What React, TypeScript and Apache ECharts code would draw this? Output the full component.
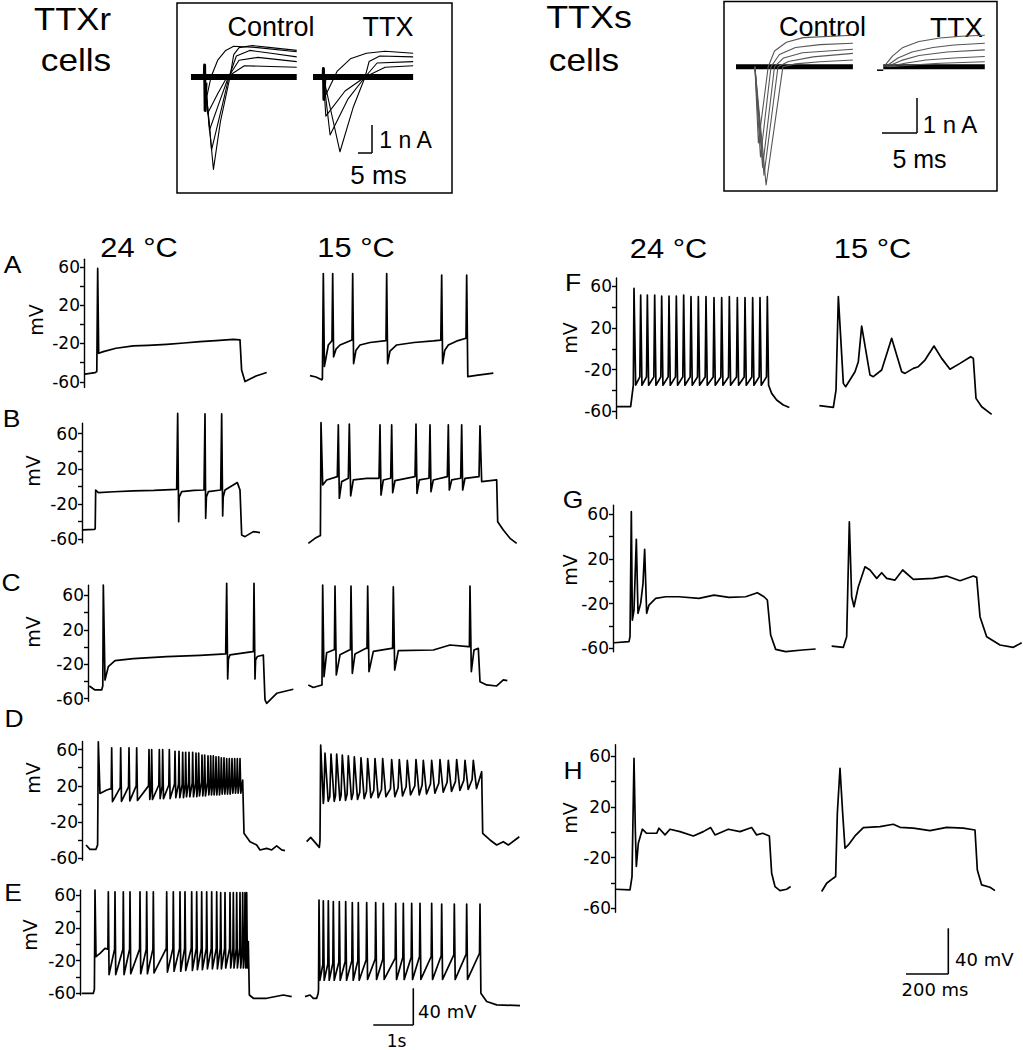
import React, { useEffect, useRef } from "react";
import * as echarts from "echarts";

type Pt = [number, number];
type Spk = [number, number, number, number]; // time, pre-spike level, peak, after-spike trough

// ---------------- axis ticks / labels ----------------
const tickValues = [-60, -40, -20, 0, 20, 40, 60];
const labelValues = [-60, -20, 20, 60];
const tempLabels = ["24 °C", "15 °C"];

// ---------------- Panel A (time s, mV) ----------------
const A24: Pt[] = [[0.02,-52],[0.28,-50.4],[0.32,-49.4],[0.342,58.4],[0.367,-30.3],[0.483,-28.5],[0.8,-25],[1.233,-22.6],[1.6,-22],[2.067,-20.9],[2.5,-19.5],[2.9,-18.1],[3.3,-17],[3.733,-15.7],[3.9,-16.3],[3.94,-47.7],[4.025,-59.8],[4.3,-54],[4.567,-50.4]];
const A15: Pt[] = [[0,-53.6],[0.15,-55],[0.29,-58],[0.31,-57],[0.333,53],[0.36,-44],[0.4,-35],[0.458,-21.6],[0.55,-17],[0.567,53],[0.59,-34],[0.65,-26],[0.75,-21.6],[1.05,-16.3],[1.067,53],[1.09,-41],[1.15,-27],[1.25,-21.6],[1.5,-19],[1.9,-17],[1.917,53],[1.94,-41],[2.0,-28],[2.167,-21.6],[2.6,-19],[3.083,-17.4],[3.27,-16.5],[3.292,51.5],[3.315,-41],[3.37,-27],[3.458,-21.6],[3.7,-17],[3.9,-14.6],[3.917,51.5],[3.945,-54.6],[4.2,-53],[4.583,-51]];

// ---------------- Panel B ----------------
const B24: Pt[] = [[0.017,-49.4],[0.308,-48.7],[0.33,-48],[0.342,-4],[0.408,-7],[0.8,-6],[1.283,-5.1],[1.8,-4.5],[2.367,-3.2],[2.38,-3],[2.392,83],[2.417,-40],[2.43,-12],[2.492,-5.9],[2.8,-4.5],[3.05,-4],[3.062,-4],[3.075,82.4],[3.092,-36.2],[3.11,-12],[3.158,-5.9],[3.467,-4],[3.48,-4],[3.492,82.4],[3.517,-33.5],[3.53,-12],[3.575,-4],[3.883,4.4],[3.95,-4],[3.992,-55.1],[4.075,-57],[4.283,-51.3],[4.45,-52.5]];
const B15: Pt[] = [[0.008,-64.6],[0.175,-58.9],[0.283,-56.3],[0.31,-56],[0.325,72.5],[0.367,1.7],[0.467,7.4],[0.733,11.2],[0.758,69.9],[0.783,-13.4],[0.842,5.5],[1.008,9.3],[1.033,71],[1.067,-10.8],[1.133,7.4],[1.467,9.3],[1.775,9.3],[1.8,69.9],[1.825,-9.7],[1.883,7.4],[2.067,9.3],[2.092,69.9],[2.117,-7],[2.175,6.6],[2.675,11.2],[2.7,71],[2.725,-7.8],[2.783,7.4],[3.025,9.3],[3.05,69.9],[3.075,-5.9],[3.133,7.4],[3.483,11.2],[3.508,69.9],[3.533,-4],[3.592,7.4],[3.817,9.3],[3.842,69.9],[3.867,-4],[3.925,9.3],[4.275,11.2],[4.3,68.8],[4.342,5.5],[4.717,7.4],[4.742,-40],[4.883,-49.4],[5.05,-58.9],[5.217,-64.6]];

// ---------------- Panel C ----------------
const C24: Pt[] = [[0.033,-45.2],[0.175,-49.8],[0.342,-49.8],[0.37,-45],[0.383,72.1],[0.425,-38.2],[0.508,-22.7],[0.675,-15.8],[1.133,-13.5],[1.967,-11.1],[2.8,-9.6],[3.442,-8],[3.455,-8],[3.467,74],[3.492,-37],[3.51,-14],[3.55,-9],[4.117,-5.3],[4.135,-5.3],[4.15,74],[4.175,-37],[4.19,-15],[4.233,-11],[4.383,-9.2],[4.425,-61.4],[4.467,-65.3],[4.717,-53.7],[5.133,-49]];
const C15: Pt[] = [[0.008,-44],[0.133,-46.9],[0.258,-45.2],[0.35,-44],[0.367,72],[0.4,-34.3],[0.467,-6.5],[0.633,-3.4],[0.66,-3],[0.675,70.9],[0.708,-32.4],[0.8,-9],[1.033,-3.4],[1.06,-3],[1.075,70.9],[1.108,-30.5],[1.175,-8],[1.45,-1.5],[1.475,-1.5],[1.492,70.9],[1.525,-28.5],[1.633,-5],[2.092,-1.5],[2.115,-1.5],[2.133,70.1],[2.167,-26.6],[2.258,-4.2],[3.133,-3.4],[3.55,2.4],[4.008,0.5],[4.035,0.5],[4.05,70.9],[4.083,-28.5],[4.15,-3.4],[4.258,-1.5],[4.3,-40.2],[4.467,-44],[4.717,-45.2],[4.883,-38.2],[4.983,-39]];

// ---------------- Panel D ----------------
const D24_head: Pt[] = [[0.1,-45.1],[0.2,-49.9],[0.35,-49.9],[0.39,-45],[0.408,68.6],[0.45,11.7],[0.617,15.4]];
const D24_spikes: Spk[] = [[0.742,17,62,2.6],[0.967,18,62,3],[1.175,19,62,3.5],[1.367,20,62,4],[1.675,20,60,5],[1.742,19,60,5],[1.933,21,60,6],[2.017,20,60,6],[2.183,21,60,6],[2.325,22,58,7],[2.425,22,58,7],[2.517,22,57,7],[2.592,22,57,8],[2.675,23,57,8],[2.767,23,57,8],[2.85,23,56,8],[2.917,23,56,9],[3.0,24,54,9],[3.067,24,54,9],[3.15,24,53,10],[3.217,24,53,10],[3.283,24,53,10],[3.35,25,52,10],[3.417,25,52,10],[3.483,25,51,11],[3.55,25,51,11],[3.617,25,50,11],[3.683,26,50,11],[3.75,26,50,12],[3.817,26,50,12],[3.883,26,50,12],[3.95,26,50,12]];
const D24_tail: Pt[] = [[4.017,26.4],[4.05,-32.3],[4.2,-41.5],[4.367,-45.1],[4.45,-50.6],[4.617,-48.8],[4.742,-50.6],[4.867,-46.2],[4.992,-50.6],[5.075,-51.4]];
const D15_head: Pt[] = [[0.017,-41.5],[0.117,-36.7],[0.333,-47.7],[0.35,-40],[0.367,65],[0.433,0.7]];
const D15_spikes: Spk[] = [[0.475,6,56,3],[0.625,8,55,3],[0.767,9,55,4],[0.908,10,54,4],[1.058,11,53,5],[1.208,12,52,5],[1.375,13,51,6],[1.542,14,50,7],[1.725,15,50,7],[1.917,16,50,8],[2.142,17,49,8],[2.333,18,49,9],[2.533,19,48,10],[2.75,20,49,10],[2.933,21,48,11],[3.142,22,48,12],[3.35,23,49,13],[3.558,24,48,14],[3.767,25,49,15],[3.975,26,48,16],[4.183,27,48,17]];
const D15_tail: Pt[] = [[4.392,35.6],[4.417,-32.3],[4.6,-39.6],[4.767,-45.1],[4.933,-41.5],[5.058,-45.1],[5.225,-39.6],[5.333,-36]];

// ---------------- Panel E ----------------
const E24_head: Pt[] = [[0.042,-60],[0.333,-60],[0.36,-55],[0.375,66.2],[0.4,-15.2],[0.5,-11.1],[0.625,-5]];
const E24_spikes: Spk[] = [[0.708,-6,64,-37],[0.875,-6,64,-37],[1.083,-6,64,-37],[1.25,-6,64,-36],[1.5,-6,64,-36],[1.667,-6,64,-36],[1.833,-6,64,-35],[2.167,-5,64,-34],[2.333,-5,64,-33],[2.5,-5,64,-33],[2.625,-5,64,-32],[2.792,-5,64,-32],[2.917,-5,64,-31],[3.042,-5,64,-31],[3.167,-5,64,-30],[3.292,-5,64,-30],[3.417,-5,64,-30],[3.517,-5,63,-30],[3.625,-5,63,-29],[3.75,-5,63,-29],[3.833,-5,63,-29],[3.917,-5,63,-29],[4.0,-5,63,-29],[4.067,-5,63,-29],[4.125,-5,63,-29],[4.167,-5,63,-29]];
const E24_tail: Pt[] = [[4.208,3.2],[4.233,-62],[4.333,-66],[4.667,-66],[5.083,-62],[5.292,-64]];
const E15_head: Pt[] = [[0,-64],[0.125,-62],[0.208,-66],[0.292,-66],[0.33,-60]];
const E15_spikes: Spk[] = [[0.35,-55,54,-44],[0.458,-25,53,-44],[0.583,-24,53,-44],[0.708,-23,52,-44],[0.858,-22,52,-44],[1.017,-21,52,-44],[1.183,-20,51,-44],[1.333,-20,51,-44],[1.542,-19,51,-43],[1.767,-18,51,-43],[1.958,-18,50,-43],[2.267,-17,50,-43],[2.458,-16,50,-43],[2.667,-16,50,-43],[2.875,-15,50,-43],[3.167,-15,50,-43],[3.417,-14,49,-43],[3.733,-13,49,-43],[4.042,-12,49,-43],[4.375,-11,49,-60]];
const E15_tail: Pt[] = [[4.542,-70],[4.792,-74],[5.375,-75]];

// ---------------- Panel F (time ms, mV) ----------------
const F24_head: Pt[] = [[0,-55.6],[69.8,-55.6],[82.5,-34.8],[85.7,58],[93.7,-34.8]];
const F24_spikes: Spk[] = [[117.5,-27,51.6,-35],[149.3,-27,51.6,-35],[184.2,-27,51.6,-35],[217.5,-27,50.6,-35],[252.4,-27,50.6,-35],[287.3,-27,50.6,-35],[322.2,-27,51.6,-35],[357.1,-27,50,-35],[392.1,-27,50,-35],[428.6,-27,50,-35],[466.7,-27,49,-35],[503.2,-27,49,-35],[539.7,-27,50,-35],[577.8,-27,49,-35],[614.3,-27,49,-35],[650.8,-27,49,-35],[685.7,-27,49,-35],[720.6,-27,50,-35]];
const F24_tail: Pt[] = [[741.3,-42.8],[765,-49.2],[796.8,-54],[825.4,-56.4]];
const F15: Pt[] = [[1.6,-54.6],[68.3,-56.2],[81,-39.6],[92.1,50],[115.9,-33.2],[127,-36.4],[171.4,-22],[187.3,-12.4],[203.2,21.8],[242.9,-25.2],[258.7,-26.8],[298.4,-20.4],[346,10],[393.7,-22],[409.5,-23.6],[449.2,-18.8],[473,-17.2],[504.8,-10.8],[547.6,2.6],[584.1,-9.2],[623.8,-19.6],[671.4,-14],[722.2,-7.6],[734.9,-9.2],[747.6,-47.6],[774.6,-55.6],[822.2,-63]];

// ---------------- Panel G ----------------
const G24: Pt[] = [[4.8,-55],[76.2,-54],[81,-49.6],[87.3,62.1],[92.1,-34.7],[100,-25.8],[111.1,37.4],[119,-28.7],[131.8,-19.8],[142.9,-1.9],[150.8,28.4],[160.3,-28.7],[171.4,-21.3],[203.2,-15.3],[250.8,-13.9],[314.3,-13.9],[409.5,-15.3],[481,-12.4],[552.4,-14.4],[631.8,-13.9],[687.3,-10.3],[719,-13.9],[735,-16.8],[750.8,-48.1],[774.6,-60.9],[822.2,-63],[901.6,-61.5],[965,-60.6]];
const G15: Pt[] = [[3.2,-58],[58.7,-59.1],[74.6,-49.6],[87.3,53.1],[98.4,-13.9],[109.5,-22.8],[130.2,-4.9],[161.9,12.9],[185.7,10],[217.5,2.5],[241.3,7.6],[265.1,2.5],[304.8,1],[341.3,10],[392.1,1.6],[487.3,2.5],[550.8,4.6],[614.3,0.4],[677.8,4.6],[693.7,3.4],[709.5,-31.7],[741.3,-49.6],[804.8,-57],[868.3,-59.1],[908,-55]];

// ---------------- Panel H ----------------
const H24: Pt[] = [[0,-44.9],[71.4,-45.4],[81,-34.9],[90.5,58.3],[96.8,1.8],[101.6,-27],[111.1,-8.7],[130.2,2.4],[150.8,-0.8],[198.4,-0.8],[209.5,3.2],[238.1,-2.1],[261.9,2.4],[309.5,0.5],[373,-2.9],[420.6,0.5],[455.6,3.7],[476.2,-2.1],[539.7,2.4],[595.2,0.5],[650.8,3.7],[674.6,-2.1],[703.2,-0.8],[735,-2.9],[746,-32.3],[761.9,-42.8],[785.7,-46],[817.5,-44.9],[836.5,-42.8]];
const H15: Pt[] = [[3.2,-46.7],[27,-40.2],[58.7,-36.2],[69.8,-34.9],[77.8,15],[90.5,50.4],[103.2,15],[114.3,-12.6],[130.2,-10],[161.9,-2.9],[201.6,3.7],[281,4.5],[344.4,6.3],[376.2,3.9],[439.7,3.2],[519,1.3],[598.4,3.9],[677.8,3.2],[733.3,1.8],[744.4,-29.7],[765.1,-41.5],[804.8,-43.3],[828.6,-46]];

// ---------------- Insets (time ms, current nA) ----------------
const TTXr_ctl_base: Pt[] = [[0,0],[39.6,0]];
const TTXr_ctl_cap: Pt[] = [[5.0,0],[5.1,0.43],[5.3,-1.2],[5.6,-0.2]];
const TTXr_ctl: Pt[][] = [
  [[5.2,0],[8.4,-3.3],[11,-1.6],[14.6,0],[16,0.8],[18,1.05],[23,1.12],[30,1.05],[39.6,0.95]],
  [[5.2,0],[7.7,-2.6],[12,-0.9],[14.2,0],[17,0.75],[22,0.95],[30,0.85],[39.6,0.72]],
  [[5.2,0],[6.9,-1.9],[11,-0.8],[14,0],[18,0.6],[25,0.7],[39.6,0.55]],
  [[5.2,0],[6.2,-1.3],[10,-0.6],[13.5,0],[20,0.4],[39.6,0.35]],
  [[5.2,0],[5.7,-0.8],[7.5,0],[10,0.6],[13,0.95],[16,1.1],[25,1.05],[39.6,0.9]],
];
const TTXr_ttx_base: Pt[] = [[0,0],[37.5,0]];
const TTXr_ttx_cap: Pt[] = [[3.8,0],[3.9,0.3],[4.1,-0.8],[4.4,-0.1]];
const TTXr_ttx: Pt[][] = [
  [[3.9,0],[10.1,-2.67],[15,-1.1],[19.5,0],[21,0.55],[25,0.75],[37.5,0.72]],
  [[3.9,0],[6.4,-2.07],[13,-0.8],[19.5,0],[24,0.5],[37.5,0.55]],
  [[3.9,0],[4.8,-1.4],[12,-0.5],[19.5,0],[27,0.35],[37.5,0.4]],
  [[3.9,0],[4.5,-0.7],[9,0.2],[14,0.65],[20,0.85],[27,0.92],[37.5,0.85]],
];
const TTXs_ctl_base: Pt[] = [[0,0],[16.7,0]];
const TTXs_ctl: Pt[][] = [
  [[2.7,0],[3.2,-2.18],[4.6,0],[5.5,0.45],[7.2,0.7],[9.6,0.83],[16.7,0.9]],
  [[2.7,0],[3.5,-2.58],[5.0,0],[6.2,0.35],[8.5,0.55],[12,0.63],[16.7,0.67]],
  [[2.7,0],[3.8,-2.87],[5.5,0],[6.8,0.25],[9.5,0.4],[16.7,0.5]],
  [[2.7,0],[4.0,-3.1],[6.0,0],[7.5,0.15],[11,0.28],[16.7,0.38]],
  [[2.7,0],[4.3,-3.38],[6.7,0],[8.5,0.08],[12,0.14],[16.7,0.19]],
];
const TTXs_ttx_base: Pt[] = [[0.9,0],[15.4,0]];
const TTXs_ttx_lead: Pt[] = [[0,-0.1],[0.9,-0.1]];
const TTXs_ttx: Pt[][] = [
  [[1.0,0],[2.2,0.3],[3.7,0.55],[6,0.72],[9,0.82],[12,0.87],[15.4,0.9]],
  [[1.2,0],[3,0.25],[5,0.42],[8,0.55],[11,0.62],[15.4,0.67]],
  [[1.4,0],[3.5,0.18],[6,0.32],[10,0.42],[15.4,0.48]],
  [[1.6,0],[4,0.1],[7,0.19],[11,0.25],[15.4,0.29]],
  [[1.8,0],[5,0.05],[9,0.1],[15.4,0.14]],
];

function train(head: Pt[], spikes: Spk[], tail: Pt[], rise: number, fall: number): Pt[] {
  const out: Pt[] = head.slice();
  for (const [t, pre, pk, tr] of spikes) {
    out.push([t - rise, pre], [t, pk], [t + fall, tr]);
  }
  return out.concat(tail);
}

interface GridDef { left: number; top: number; width: number; height: number; xMax: number; yMin: number; yMax: number; axis: boolean; }

const FONT_AX = '"DejaVu Sans", sans-serif';
const FONT_TXT = '"Liberation Sans", Arial, sans-serif';

export default function App() {
  const ref = useRef<HTMLDivElement>(null);
  useEffect(() => {
    if (!ref.current) return;
    const chart = echarts.init(ref.current, undefined, { renderer: "svg" });

    const grids: GridDef[] = [];
    const series: any[] = [];
    const addGrid = (g: GridDef) => { grids.push(g); return grids.length - 1; };
    const addLine = (gi: number, data: Pt[], color = "#000", width = 1.7) => {
      series.push({
        type: "line", xAxisIndex: gi, yAxisIndex: gi, data, symbol: "none", showSymbol: false,
        clip: false, silent: true, animation: false,
        lineStyle: { color, width, join: "round" },
      });
    };

    const panels: { d24: Pt[]; d15: Pt[]; top: number; height: number; yMin: number; yMax: number; l24: number; x24: number; l15: number; x15: number; pxu: number }[] = [
      { d24: A24, d15: A15, top: 259.2, height: 128.3, yMin: -66, yMax: 68, l24: 84, x24: 4.6, l15: 310, x15: 4.6, pxu: 40 },
      { d24: B24, d15: B15, top: 423.1, height: 119.7, yMin: -64, yMax: 72, l24: 82, x24: 4.5, l15: 308, x15: 5.25, pxu: 40 },
      { d24: C24, d15: C15, top: 585.1, height: 116.2, yMin: -63, yMax: 72, l24: 88, x24: 5.2, l15: 308, x15: 5.0, pxu: 40 },
      { d24: train(D24_head, D24_spikes, D24_tail, 0.012, 0.02), d15: train(D15_head, D15_spikes, D15_tail, 0.03, 0.08), top: 741.4, height: 118.9, yMin: -62, yMax: 69, l24: 82, x24: 5.1, l15: 306, x15: 5.35, pxu: 40 },
      { d24: train(E24_head, E24_spikes, E24_tail, 0.01, 0.018), d15: train(E15_head, E15_spikes, E15_tail, 0.012, 0.022), top: 890.2, height: 104.8, yMin: -62, yMax: 66, l24: 80, x24: 5.3, l15: 305, x15: 5.4, pxu: 40 },
      { d24: train(F24_head, F24_spikes, F24_tail, 4, 6), d15: F15, top: 277.9, height: 140.7, yMin: -67, yMax: 68, l24: 616, x24: 830, l15: 819, x15: 830, pxu: 0.21 },
      { d24: G24, d15: G15, top: 505.1, height: 146.6, yMin: -63, yMax: 68, l24: 613, x24: 970, l15: 831, x15: 910, pxu: 0.21 },
      { d24: H24, d15: H15, top: 744.7, height: 167.5, yMin: -63, yMax: 69, l24: 615, x24: 840, l15: 821, x15: 830, pxu: 0.21 },
    ];
    for (const p of panels) {
      const g1 = addGrid({ left: p.l24, top: p.top, width: p.x24 * p.pxu, height: p.height, xMax: p.x24, yMin: p.yMin, yMax: p.yMax, axis: true });
      addLine(g1, p.d24);
      const g2 = addGrid({ left: p.l15, top: p.top, width: p.x15 * p.pxu, height: p.height, xMax: p.x15, yMin: p.yMin, yMax: p.yMax, axis: false });
      addLine(g2, p.d15);
    }

    // Insets
    const i1 = addGrid({ left: 191, top: 35, width: 40 * 2.67, height: 142.8, xMax: 40, yMin: -3.6, yMax: 1.5, axis: false });
    addLine(i1, TTXr_ctl_base, "#000", 6);
    addLine(i1, TTXr_ctl_cap, "#000", 3);
    TTXr_ctl.forEach((d) => addLine(i1, d, "#000", 1.1));
    const i2 = addGrid({ left: 313, top: 35, width: 37.5 * 2.67, height: 142.8, xMax: 37.5, yMin: -3.6, yMax: 1.5, axis: false });
    addLine(i2, TTXr_ttx_base, "#000", 6);
    addLine(i2, TTXr_ttx_cap, "#000", 3);
    TTXr_ttx.forEach((d) => addLine(i2, d, "#000", 1.1));
    const i3 = addGrid({ left: 736, top: 17.7, width: 16.7 * 7, height: 175, xMax: 16.7, yMin: -3.6, yMax: 1.4, axis: false });
    addLine(i3, TTXs_ctl_base, "#000", 5);
    TTXs_ctl.forEach((d) => addLine(i3, d, "#555", 1.1));
    const i4 = addGrid({ left: 877, top: 17.7, width: 15.4 * 7, height: 175, xMax: 15.4, yMin: -3.6, yMax: 1.4, axis: false });
    addLine(i4, TTXs_ttx_lead, "#000", 1.5);
    addLine(i4, TTXs_ttx_base, "#000", 5);
    TTXs_ttx.forEach((d) => addLine(i4, d, "#555", 1.1));

    const axisColor = "#000";
    const option: any = {
      animation: false,
      backgroundColor: "#fff",
      grid: grids.map((g) => ({ left: g.left, top: g.top, width: g.width, height: g.height, containLabel: false, outerBoundsMode: "none" })),
      xAxis: grids.map((g, i) => ({ type: "value", gridIndex: i, min: 0, max: g.xMax, show: false })),
      yAxis: grids.map((g, i) => ({
        type: "value", gridIndex: i, min: g.yMin, max: g.yMax, show: g.axis,
        axisLine: { show: true, lineStyle: { color: axisColor, width: 1.4 } },
        axisTick: { show: true, length: 4, customValues: tickValues, lineStyle: { color: axisColor, width: 1.4 } },
        axisLabel: { show: true, customValues: labelValues, color: "#000", fontSize: 17, fontFamily: FONT_AX, margin: 4 },
        splitLine: { show: false },
      })),
      series,
      graphic: { elements: [] as any[] },
    };

    const els: any[] = option.graphic.elements;
    const txt = (text: string, x: number, y: number, size: number, opts: any = {}) => {
      els.push({
        type: "text", x, y, rotation: opts.rotation || 0, scaleX: opts.scaleX || 1, silent: true,
        style: {
          text, fill: "#000", font: `${size}px ${opts.font || FONT_TXT}`,
          align: opts.align || "center", textAlign: opts.align || "center",
          verticalAlign: "middle", textVerticalAlign: "middle",
        },
      });
    };
    const seg = (x1: number, y1: number, x2: number, y2: number, w = 1.6) => {
      els.push({ type: "line", silent: true, shape: { x1, y1, x2, y2 }, style: { stroke: "#000", lineWidth: w } });
    };

    // Titles
    txt("TTXr", 72.5, 18.5, 32, { scaleX: 1.08 });
    txt("cells", 76, 60, 32, { scaleX: 1.1 });
    txt("TTXs", 589, 17, 32, { scaleX: 1.12 });
    txt("cells", 584, 60, 32, { scaleX: 1.1 });

    // Inset boxes
    els.push({ type: "rect", silent: true, shape: { x: 177, y: 3, width: 275, height: 190 }, style: { fill: "none", stroke: "#000", lineWidth: 1.5 } });
    els.push({ type: "rect", silent: true, shape: { x: 724, y: 1.5, width: 273, height: 189.5 }, style: { fill: "none", stroke: "#000", lineWidth: 1.5 } });
    txt("Control", 271, 27, 27);
    txt("TTX", 388, 27, 27);
    txt("1 n A", 405.5, 140, 23);
    txt("5 ms", 378.5, 175, 26);
    seg(372, 125, 372, 153, 1.5); seg(358, 153, 372, 153, 1.5);
    txt("Control", 822.5, 27, 27);
    txt("TTX", 956.5, 27, 28);
    txt("1 n A", 950, 124, 24);
    txt("5 ms", 919.5, 159, 25);
    seg(917, 98, 917, 133, 1.5); seg(882, 133, 917, 133, 1.5);

    // Temperature headers
    txt(tempLabels[0], 139, 247, 28, { scaleX: 1.1 });
    txt(tempLabels[1], 356, 247, 28, { scaleX: 1.1 });
    txt(tempLabels[0], 668.5, 248, 28, { scaleX: 1.1 });
    txt(tempLabels[1], 872.5, 248, 28, { scaleX: 1.1 });

    // Panel letters
    const letters: [string, number, number][] = [["A", 12.5, 265.5], ["B", 11.5, 419.5], ["C", 11, 583], ["D", 14, 719], ["E", 13, 893], ["F", 573, 283], ["G", 573, 500], ["H", 573, 771]];
    letters.forEach(([l, x, y]) => txt(l, x, y, 23, { scaleX: 1.15 }));

    // mV axis names
    const mv: [number, number][] = [[36, 320], [33, 471], [33, 632], [33, 778], [30, 935], [570, 338], [570, 570], [570, 818]];
    mv.forEach(([x, y]) => txt("mV", x, y, 19, { rotation: Math.PI / 2, font: FONT_AX }));

    // Scale bars
    seg(413.3, 988.3, 413.3, 1025); seg(373.3, 1025, 413.3, 1025);
    txt("40 mV", 418, 1011.5, 18, { align: "left", font: FONT_AX });
    txt("1s", 396.5, 1040.5, 17, { font: FONT_AX });
    seg(948.3, 928.3, 948.3, 974); seg(906, 974, 948.3, 974);
    txt("40 mV", 955, 959, 18, { align: "left", font: FONT_AX });
    txt("200 ms", 935, 989.5, 18, { font: FONT_AX });

    chart.setOption(option);
    return () => chart.dispose();
  }, []);

  return (
    <div
      ref={ref}
      style={{ position: "absolute", left: 0, top: 0, width: 1023, height: 1050, background: "#fff" }}
    />
  );
}
